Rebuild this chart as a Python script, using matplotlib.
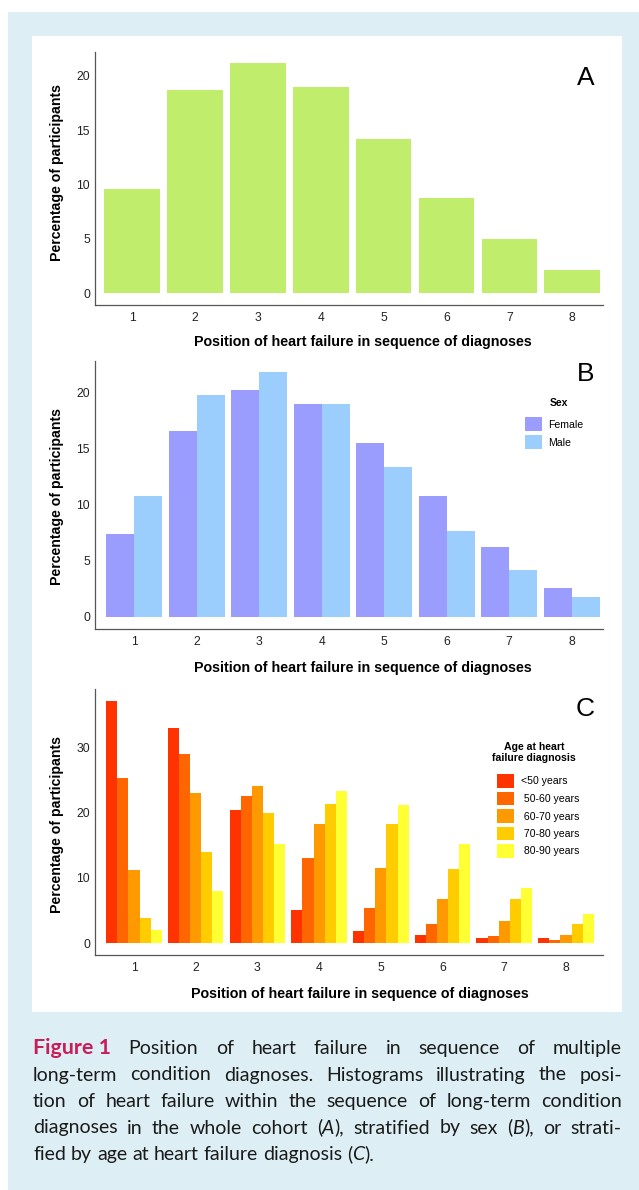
import matplotlib
matplotlib.use("Agg")
import matplotlib.pyplot as plt
from matplotlib.patches import Rectangle
import numpy as np

# Data (percentage of participants)
positions = [1, 2, 3, 4, 5, 6, 7, 8]
whole_cohort = [9.6, 18.7, 21.2, 19.0, 14.2, 8.8, 5.0, 2.1]

sex_labels = ["Female", "Male"]
female = [7.4, 16.6, 20.2, 19.0, 15.5, 10.8, 6.2, 2.6]
male = [10.8, 19.8, 21.8, 19.0, 13.4, 7.7, 4.2, 1.8]

age_labels = ["<50 years", " 50-60 years", " 60-70 years", " 70-80 years", " 80-90 years"]
age_lt50 = [37.0, 33.0, 20.4, 5.1, 1.9, 1.2, 0.8, 0.8]
age_50_60 = [25.3, 28.9, 22.5, 13.1, 5.4, 3.0, 1.1, 0.5]
age_60_70 = [11.2, 23.0, 24.1, 18.3, 11.5, 6.7, 3.4, 1.2]
age_70_80 = [3.9, 13.9, 19.9, 21.3, 18.2, 11.4, 6.8, 2.9]
age_80_90 = [2.1, 8.0, 15.2, 23.3, 21.1, 15.2, 8.5, 4.5]
age_series = [age_lt50, age_50_60, age_60_70, age_70_80, age_80_90]

green = "#c1ed6c"
sex_colors = ["#9a9dfd", "#9bcdfd"]
age_colors = ["#ff3300", "#ff6600", "#ff9900", "#ffcc00", "#ffff33"]

caption_lines = [
    "Figure~1 Position of heart failure in sequence of multiple",
    "long-term condition diagnoses. Histograms illustrating the posi-",
    "tion of heart failure within the sequence of long-term condition",
    "diagnoses in the whole cohort (_A_), stratified by sex (_B_), or strati-",
    "fied by age at heart failure diagnosis (_C_).",
]

W, H = 639, 1190
plt.rcParams["font.family"] = ["Liberation Sans", "DejaVu Sans"]
fig = plt.figure(figsize=(W / 100, H / 100), dpi=100)


def fx(px):
    return px / W


def fy(py):
    return 1 - py / H


# light blue frame and white plotting panel
fig.add_artist(Rectangle((fx(8), 0), 1 - fx(8), fy(12), transform=fig.transFigure,
                         facecolor="#ddeff4", edgecolor="none", zorder=-2))
fig.add_artist(Rectangle((fx(32), fy(1012)), fx(622) - fx(32), fy(36) - fy(1012),
                         transform=fig.transFigure, facecolor="white", edgecolor="none", zorder=-1))


def make_axes(top, bottom, left=94.5, right=603):
    return fig.add_axes([fx(left), fy(bottom), fx(right) - fx(left), fy(top) - fy(bottom)])


def style(ax, xlim, ylim, yticks, ylab_y, xlab_x, xlab_y):
    ax.patch.set_visible(False)
    for s in ["top", "right"]:
        ax.spines[s].set_visible(False)
    for s in ["left", "bottom"]:
        ax.spines[s].set_color("#555555")
        ax.spines[s].set_linewidth(0.9)
    ax.set_xlim(*xlim)
    ax.set_ylim(*ylim)
    ax.set_xticks(positions)
    ax.set_yticks(yticks)
    ax.tick_params(length=0, labelsize=8.7, labelcolor="#222222")
    ax.tick_params(axis="x", pad=5)
    ax.tick_params(axis="y", pad=3.2)
    ax.set_ylabel("Percentage of participants", fontsize=10.2, fontweight="bold", va="center")
    ax.yaxis.set_label_coords(-0.0728, ylab_y)
    ax.set_xlabel("Position of heart failure in sequence of diagnoses", fontsize=10.3,
                  fontweight="bold", va="center")
    ax.xaxis.set_label_coords(xlab_x, xlab_y)


def key(x0, x1, y_first, step, h, text_x, labels, colors):
    # hand-placed legend swatches (figure pixel coordinates)
    for i, (lab, col) in enumerate(zip(labels, colors)):
        yc = y_first + i * step
        fig.add_artist(Rectangle((fx(x0), fy(yc + h / 2)), fx(x1) - fx(x0), h / H,
                                 transform=fig.transFigure, facecolor=col, edgecolor="none"))
        fig.text(fx(text_x), fy(yc + 0.5), lab, fontsize=7.6, ha="left", va="center")


x = np.array(positions)

# Panel A: whole cohort
axA = make_axes(52, 305)
axA.bar(x, whole_cohort, width=0.885, color=green)
style(axA, (0.40, 8.49), (-1.1, 22.2), [0, 5, 10, 15, 20], 0.524, 0.527, -0.146)

# Panel B: by sex
axB = make_axes(361, 629)
axB.bar(x - 0.225, female, width=0.45, color=sex_colors[0], label=sex_labels[0])
axB.bar(x + 0.225, male, width=0.45, color=sex_colors[1], label=sex_labels[1])
style(axB, (0.365, 8.5), (-1.07, 22.8), [0, 5, 10, 15, 20], 0.494, 0.527, -0.1455)
fig.text(fx(559), fy(402.7), "Sex", fontsize=7.5, fontweight="bold", ha="center", va="center")
key(524.5, 541.8, 424, 18.3, 13.7, 548.3, sex_labels, sex_colors)

# Panel C: by age at diagnosis
axC = make_axes(689, 955)
w = 0.18
for i, (vals, lab, col) in enumerate(zip(age_series, age_labels, age_colors)):
    axC.bar(x + (i - 2) * w, vals, width=w, color=col, label=lab)
style(axC, (0.36, 8.6), (-1.8, 38.9), [0, 10, 20, 30], 0.49, 0.522, -0.1466)
fig.text(fx(534), fy(752.5), "Age at heart\nfailure diagnosis", fontsize=7.6,
         fontweight="bold", ha="center", va="center", multialignment="center",
         linespacing=1.12)
key(496.7, 514, 781, 17.5, 13.3, 521, age_labels, age_colors)

# panel letters
for letter, base in [("A", 85), ("B", 381), ("C", 716)]:
    fig.text(fx(585.5), fy(base), letter, fontsize=19, ha="center", va="baseline")

# caption, justified
cap_font = ["Lato", "DejaVu Sans"]
renderer = fig.canvas.get_renderer()


def props(kind, fs):
    if kind == "fig":
        return dict(fontsize=fs * 1.1, fontweight="bold", color="#c91d5a")
    if kind == "it":
        return dict(fontsize=fs, style="italic", color="#1a1a1a")
    return dict(fontsize=fs, color="#1a1a1a")


def parse(word):
    if word.startswith("Figure~"):
        return [(word.replace("~", " "), "fig")]
    parts = word.split("_")
    return [(p, "it" if i % 2 else "n") for i, p in enumerate(parts) if p]


def measure(s, kind, fs):
    t = fig.text(0, 0, s, family=cap_font, **props(kind, fs))
    wpx = t.get_window_extent(renderer).width
    t.remove()
    return wpx


left_px, right_px = 33, 622
baselines = [1054, 1080.5, 1107, 1133.5, 1160]
fs = 14.0
space = measure("a a", "n", fs) - measure("aa", "n", fs)
words_all = [[parse(wd) for wd in line.split(" ")] for line in caption_lines]
widths_all = [[sum(measure(s, k, fs) for s, k in wd) for wd in words] for words in words_all]
for i, (words, widths, base) in enumerate(zip(words_all, widths_all, baselines)):
    if i < len(caption_lines) - 1:
        gap = (right_px - left_px - sum(widths)) / (len(words) - 1)
    else:
        gap = space
    cx = left_px
    for wd in words:
        for s, k in wd:
            fig.text(fx(cx), fy(base), s, family=cap_font, ha="left", va="baseline", **props(k, fs))
            cx += measure(s, k, fs)
        cx += gap

fig.savefig("out.png", dpi=100)
plt.close(fig)
print("Saved out.png")
